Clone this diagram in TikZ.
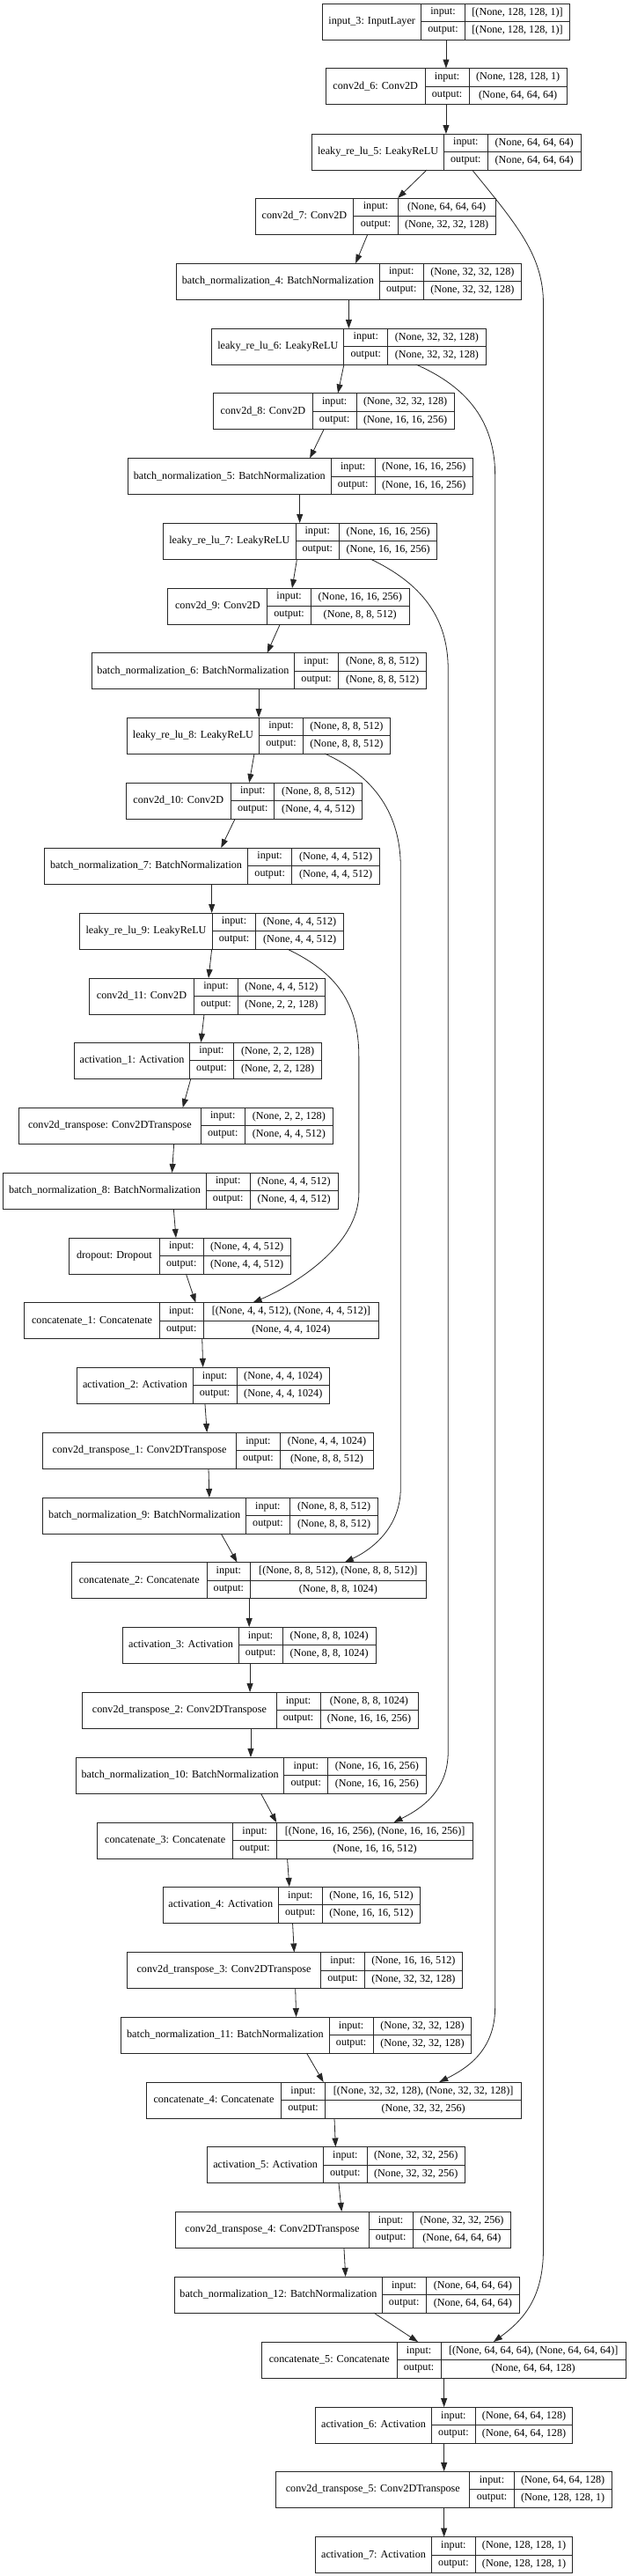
\documentclass[tikz,border=0pt]{standalone}
\usepackage{fontspec}
\setmainfont{Liberation Serif}
\usetikzlibrary{arrows.meta}
\tikzset{
  lbox/.style={draw=black!85, line width=0.9pt, minimum height=41pt, inner sep=0pt, outer sep=0pt, rectangle},
  lline/.style={draw=black!85, line width=0.9pt},
  txt/.style={font=\fontsize{12.15}{14}\selectfont, inner sep=0pt},
  arr/.style={-{Triangle[length=10pt,width=7pt]}, line width=0.8pt, black!85}
}
\newcommand{\nnlayer}[9]{%
  \node[lbox, minimum width={0.995*(#5-#2)*1pt}, anchor=west] (#1) at (#2,#6) {};
  \draw[lline] (#1.north -| #3,0) -- (#1.south -| #3,0);
  \draw[lline] (#1.north -| #4,0) -- (#1.south -| #4,0);
  \draw[lline] (#3,#6) -- (#5,#6);
  \node[txt] (#1-l) at ({(#2+#3)/2},#6) {#7};
  \node[txt] (#1-i) at ({(#3+#4)/2},{#6-10.25}) {input:};
  \node[txt] (#1-o) at ({(#3+#4)/2},{#6+10.25}) {output:};
  \node[txt] (#1-si) at ({(#4+#5)/2},{#6-10.25}) {#8};
  \node[txt] (#1-so) at ({(#4+#5)/2},{#6+10.25}) {#9};
}
\newcommand{\nnedge}[4]{\draw[arr] (#1.south -| #2,0) -- (#3.north -| #4,0);}
\begin{document}
\begin{tikzpicture}[x=0.995pt,y=-1pt]
\useasboundingbox[fill=white] (0,0) rectangle (719.6,2926);
\nnlayer{n1}{368.6}{481.0}{531.1}{650.9}{24.5}{input\_3: InputLayer}{[(None, 128, 128, 1)]}{[(None, 128, 128, 1)]}
\nnlayer{n2}{372.2}{485.6}{535.7}{647.6}{98}{conv2d\_6: Conv2D}{(None, 128, 128, 1)}{(None, 64, 64, 64)}
\nnlayer{n3}{356.2}{507.2}{556.8}{663.7}{172.5}{leaky\_re\_lu\_5: LeakyReLU}{(None, 64, 64, 64)}{(None, 64, 64, 64)}
\nnlayer{n4}{291.5}{403.9}{454.4}{566.0}{245.5}{conv2d\_7: Conv2D}{(None, 64, 64, 64)}{(None, 32, 32, 128)}
\nnlayer{n5}{201.5}{433.3}{483.8}{595.3}{319.5}{batch\_normalization\_4: BatchNormalization}{(None, 32, 32, 128)}{(None, 32, 32, 128)}
\nnlayer{n6}{241.9}{392.9}{442.9}{554.9}{393.5}{leaky\_re\_lu\_6: LeakyReLU}{(None, 32, 32, 128)}{(None, 32, 32, 128)}
\nnlayer{n7}{243.7}{357.1}{407.1}{518.7}{467}{conv2d\_8: Conv2D}{(None, 32, 32, 128)}{(None, 16, 16, 256)}
\nnlayer{n8}{146.0}{378.2}{428.2}{540.2}{541}{batch\_normalization\_5: BatchNormalization}{(None, 16, 16, 256)}{(None, 16, 16, 256)}
\nnlayer{n9}{186.4}{337.8}{387.4}{499.4}{614.5}{leaky\_re\_lu\_7: LeakyReLU}{(None, 16, 16, 256)}{(None, 16, 16, 256)}
\nnlayer{n10}{191.9}{305.2}{355.3}{467.3}{688.5}{conv2d\_9: Conv2D}{(None, 16, 16, 256)}{(None, 8, 8, 512)}
\nnlayer{n11}{104.7}{336.4}{386.5}{487.0}{762}{batch\_normalization\_6: BatchNormalization}{(None, 8, 8, 512)}{(None, 8, 8, 512)}
\nnlayer{n12}{145.0}{296.1}{346.1}{445.7}{835.5}{leaky\_re\_lu\_8: LeakyReLU}{(None, 8, 8, 512)}{(None, 8, 8, 512)}
\nnlayer{n13}{143.7}{263.9}{313.5}{413.6}{909.5}{conv2d\_10: Conv2D}{(None, 8, 8, 512)}{(None, 4, 4, 512)}
\nnlayer{n14}{50.5}{283.2}{333.2}{433.8}{983.5}{batch\_normalization\_7: BatchNormalization}{(None, 4, 4, 512)}{(None, 4, 4, 512)}
\nnlayer{n15}{91.3}{242.4}{292.4}{392.4}{1057.5}{leaky\_re\_lu\_9: LeakyReLU}{(None, 4, 4, 512)}{(None, 4, 4, 512)}
\nnlayer{n16}{101.9}{221.7}{271.7}{371.3}{1131.5}{conv2d\_11: Conv2D}{(None, 4, 4, 512)}{(None, 2, 2, 128)}
\nnlayer{n17}{84.9}{216.6}{266.7}{367.7}{1204.5}{activation\_1: Activation}{(None, 2, 2, 128)}{(None, 2, 2, 128)}
\nnlayer{n18}{21.6}{229.5}{279.5}{380.5}{1278.5}{conv2d\_transpose: Conv2DTranspose}{(None, 2, 2, 128)}{(None, 4, 4, 512)}
\nnlayer{n19}{3.7}{235.5}{285.5}{386.0}{1352.5}{batch\_normalization\_8: BatchNormalization}{(None, 4, 4, 512)}{(None, 4, 4, 512)}
\nnlayer{n20}{79.0}{182.2}{232.3}{331.9}{1426.5}{dropout: Dropout}{(None, 4, 4, 512)}{(None, 4, 4, 512)}
\nnlayer{n21}{28.0}{182.2}{232.3}{432.8}{1500}{concatenate\_1: Concatenate}{[(None, 4, 4, 512), (None, 4, 4, 512)]}{(None, 4, 4, 1024)}
\nnlayer{n22}{88.1}{220.3}{270.4}{376.4}{1573.5}{activation\_2: Activation}{(None, 4, 4, 1024)}{(None, 4, 4, 1024)}
\nnlayer{n23}{48.7}{269.9}{319.9}{426.9}{1647.5}{conv2d\_transpose\_1: Conv2DTranspose}{(None, 4, 4, 1024)}{(None, 8, 8, 512)}
\nnlayer{n24}{49.1}{280.9}{331.0}{431.9}{1721.5}{batch\_normalization\_9: BatchNormalization}{(None, 8, 8, 512)}{(None, 8, 8, 512)}
\nnlayer{n25}{81.7}{236.4}{286.0}{486.5}{1795}{concatenate\_2: Concatenate}{[(None, 8, 8, 512), (None, 8, 8, 512)]}{(None, 8, 8, 1024)}
\nnlayer{n26}{140.5}{272.6}{322.7}{429.2}{1868.5}{activation\_3: Activation}{(None, 8, 8, 1024)}{(None, 8, 8, 1024)}
\nnlayer{n27}{94.1}{315.8}{365.8}{477.4}{1942.5}{conv2d\_transpose\_2: Conv2DTranspose}{(None, 8, 8, 1024)}{(None, 16, 16, 256)}
\nnlayer{n28}{86.8}{324.5}{374.5}{486.5}{2016.5}{batch\_normalization\_10: BatchNormalization}{(None, 16, 16, 256)}{(None, 16, 16, 256)}
\nnlayer{n29}{111.5}{265.8}{316.3}{540.2}{2090.5}{concatenate\_3: Concatenate}{[(None, 16, 16, 256), (None, 16, 16, 256)]}{(None, 16, 16, 512)}
\nnlayer{n30}{185.9}{318.1}{368.1}{480.1}{2163.5}{activation\_4: Activation}{(None, 16, 16, 512)}{(None, 16, 16, 512)}
\nnlayer{n31}{145.0}{366.7}{416.3}{528.3}{2238}{conv2d\_transpose\_3: Conv2DTranspose}{(None, 16, 16, 512)}{(None, 32, 32, 128)}
\nnlayer{n32}{138.6}{375.9}{426.4}{538.4}{2311.5}{batch\_normalization\_11: BatchNormalization}{(None, 32, 32, 128)}{(None, 32, 32, 128)}
\nnlayer{n33}{167.1}{321.3}{371.3}{595.8}{2385.5}{concatenate\_4: Concatenate}{[(None, 32, 32, 128), (None, 32, 32, 128)]}{(None, 32, 32, 256)}
\nnlayer{n34}{236.8}{369.5}{419.1}{531.1}{2459}{activation\_5: Activation}{(None, 32, 32, 256)}{(None, 32, 32, 256)}
\nnlayer{n35}{200.6}{421.4}{471.4}{583.8}{2532.5}{conv2d\_transpose\_4: Conv2DTranspose}{(None, 32, 32, 256)}{(None, 64, 64, 64)}
\nnlayer{n36}{199.7}{436.5}{486.5}{593.5}{2606.5}{batch\_normalization\_12: BatchNormalization}{(None, 64, 64, 64)}{(None, 64, 64, 64)}
\nnlayer{n37}{298.8}{453.5}{503.5}{715.0}{2680.5}{concatenate\_5: Concatenate}{[(None, 64, 64, 64), (None, 64, 64, 64)]}{(None, 64, 64, 128)}
\nnlayer{n38}{360.3}{493.0}{543.0}{654.1}{2754.5}{activation\_6: Activation}{(None, 64, 64, 128)}{(None, 64, 64, 128)}
\nnlayer{n39}{315.3}{536.6}{587.1}{698.6}{2827.5}{conv2d\_transpose\_5: Conv2DTranspose}{(None, 64, 64, 128)}{(None, 128, 128, 1)}
\nnlayer{n40}{360.3}{493.0}{543.0}{654.1}{2902}{activation\_7: Activation}{(None, 128, 128, 1)}{(None, 128, 128, 1)}
\nnedge{n1}{509.5}{n2}{509.5}
\nnedge{n2}{509.5}{n3}{509.5}
\nnedge{n3}{487.5}{n4}{454.4}
\nnedge{n4}{420}{n5}{406.2}
\nnedge{n5}{398.4}{n6}{398.4}
\nnedge{n6}{392.9}{n7}{386}
\nnedge{n7}{370}{n8}{353.9}
\nnedge{n8}{342.4}{n9}{342.4}
\nnedge{n9}{339.2}{n10}{333.7}
\nnedge{n10}{319.9}{n11}{305.2}
\nnedge{n11}{295.6}{n12}{295.6}
\nnedge{n12}{290.5}{n13}{284.6}
\nnedge{n13}{268.5}{n14}{252.5}
\nnedge{n14}{241.9}{n15}{241.9}
\nnedge{n15}{241.9}{n16}{238.2}
\nnedge{n16}{233.2}{n17}{229.5}
\nnedge{n17}{218}{n18}{208.8}
\nnedge{n18}{198.7}{n19}{196.5}
\nnedge{n19}{198.3}{n20}{201}
\nnedge{n20}{212.5}{n21}{223.5}
\nnedge{n21}{230.9}{n22}{231.8}
\nnedge{n22}{234.1}{n23}{236.4}
\nnedge{n23}{238.2}{n24}{239.1}
\nnedge{n24}{252.5}{n25}{270.8}
\nnedge{n25}{284.6}{n26}{284.6}
\nnedge{n26}{285.5}{n27}{285.5}
\nnedge{n27}{286.4}{n28}{286.4}
\nnedge{n28}{297.9}{n29}{315.8}
\nnedge{n29}{328.2}{n30}{330.5}
\nnedge{n30}{334.2}{n31}{336}
\nnedge{n31}{337.4}{n32}{338.3}
\nnedge{n32}{350.2}{n33}{369.5}
\nnedge{n33}{381.9}{n34}{383.3}
\nnedge{n34}{386.9}{n35}{390.2}
\nnedge{n35}{392.9}{n36}{394.7}
\nnedge{n36}{426.9}{n37}{477.4}
\nnedge{n37}{507.2}{n38}{507.2}
\nnedge{n38}{507.2}{n39}{507.2}
\nnedge{n39}{507.2}{n40}{507.2}
% skip connections
\draw[arr] (n3.south -| 539.3,0) .. controls (590,255) and (620.6,290) .. (620.6,345) -- (620.6,2555) .. controls (620.6,2610) and (598,2635) .. (n37.north -| 563.7,0);
\draw[arr] (n6.south -| 475.1,0) .. controls (535,440) and (565.5,480) .. (565.5,540) -- (565.5,2280) .. controls (565.5,2330) and (532,2350) .. (n33.north -| 501.7,0);
\draw[arr] (n9.south -| 423.2,0) .. controls (480,662) and (511.8,700) .. (511.8,760) -- (511.8,1990) .. controls (511.8,2035) and (480,2055) .. (n29.north -| 449.8,0);
\draw[arr] (n12.south -| 370.9,0) .. controls (428,882) and (457.6,925) .. (457.6,985) -- (457.6,1690) .. controls (457.6,1735) and (425,1760) .. (n25.north -| 393.8,0);
\draw[arr] (n15.south -| 328.2,0) .. controls (385,1105) and (409.9,1140) .. (409.9,1200) -- (409.9,1355) .. controls (409.9,1415) and (335,1460) .. (n21.north -| 289,0);
\end{tikzpicture}
\end{document}
